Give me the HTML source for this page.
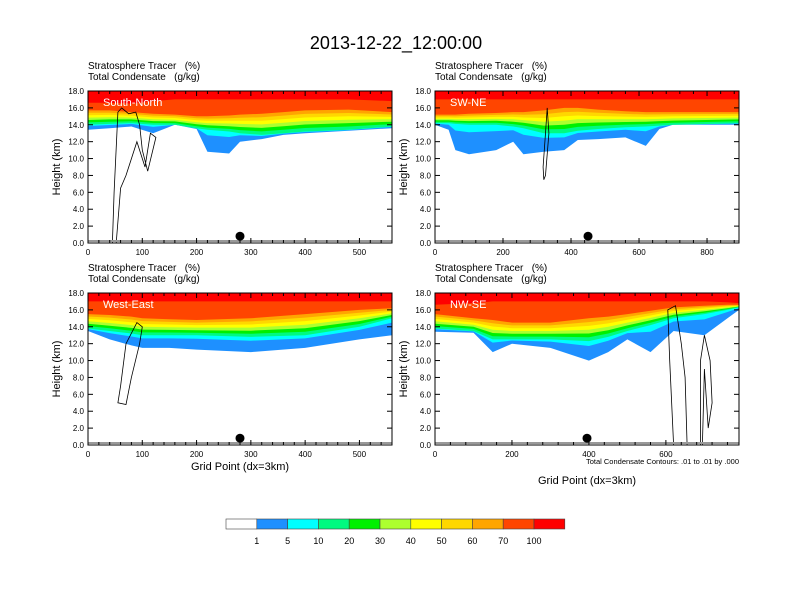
<!DOCTYPE html>
<html><head><meta charset="utf-8"><style>
body{margin:0;background:#fff}
svg{display:block;font-family:"Liberation Sans",sans-serif}
text{white-space:pre}
</style></head><body>
<svg id="s" width="792" height="612" viewBox="0 0 792 612">
<text x="396" y="49" font-size="18" text-anchor="middle">2013-12-22_12:00:00</text>
</svg>
<script>
const levels=[1,5,10,20,30,40,50,60,70,100];
const colors=['#ffffff','#1e90ff','#00ffff','#00fa80','#00f000','#adff2f','#ffff00','#ffd700','#ffa500','#ff4500','#ff0000'];
const tlX=[0,40,80,120,160,200,220,260,280,320,360,400,480,560];
const tlH100=[16.6,16.6,16.5,16.8,17,17,17,17,17,17,17,17,17,16.8];
const tlH70=[15.7,15.7,15.5,15.3,15.2,15.0,15.0,15.1,15.2,15.3,15.5,15.7,15.8,15.5];
const tlH10=[14.0,14.1,14.2,14.0,14.0,13.6,13.4,13.2,13.0,12.8,13.0,13.2,13.4,13.8];
const tlH1=[13.4,13.6,13.8,13.0,14.0,13.5,10.8,10.6,12.0,12.3,12.8,13.0,13.3,13.6];
const trX=[0,40,60,100,180,230,260,320,380,420,480,560,620,660,700,894];
const trH100=[17,17,17,17,17,17,17,17,17,17,17,17,17,17,17,17];
const trH70=[15.2,15.2,15.2,15.3,15.4,15.5,15.5,15.7,16,16,15.8,15.6,15.5,15.5,15.5,15.5];
const trH10=[14.2,14.2,14.1,14.0,14.0,13.8,13.6,13.0,13.0,13.3,13.5,13.7,13.8,13.9,14.0,14.2];
const trH1=[14.0,13.4,11.0,10.5,11.0,12.0,10.5,10.8,11.0,12.2,12.3,12.5,11.5,13.5,14.0,14.0];
const blX=[0,40,80,100,150,200,300,400,500,560];
const blH100=[17,17,17,17,17,17,17,17,17,17];
const blH70=[15.5,15.4,15.2,15.0,14.9,14.8,15.0,15.5,16.0,16.2];
const blH10=[13.8,13.5,13.2,13.0,13.0,13.0,12.8,13.0,14.0,15.0];
const blH1=[13.5,12.5,11.8,11.5,11.5,11.3,11.0,11.5,12.5,13.0];
const brX=[0,100,150,200,300,400,450,500,560,620,700,760,790];
const brH100=[16.6,16.8,17,17,17,17,17,17,17,17,17,16.9,16.8];
const brH70=[15.5,15.0,14.8,14.5,14.5,15.0,15.2,15.5,15.9,16.3,16.5,16.6,16.6];
const brH10=[13.8,13.5,12.5,12.5,12.5,12.3,12.8,13.5,14.2,15.0,15.5,16.0,16.3];
const brH1=[13.4,13.3,11.0,12.0,11.5,10.0,11.0,12.5,11.0,13.5,13.0,15.0,16.0];
const tlC=[[45,0],[48,6],[55,15.5],[62,16],[75,15.3],[88,15.5],[95,14],[100,11],[110,8.5],[125,12.5],[115,13],[105,9],[90,12],[70,8],[60,6.5],[52,0]];
const trC=[[330,16],[335,13],[325,8],[320,7.5],[318,9],[325,13],[330,16]];
const blC=[[60,7],[55,5],[70,4.8],[80,8],[95,12],[100,14],[90,14.5],[70,12],[60,7]];
const brC=[[620,0],[610,10],[605,16],[625,16.5],[640,12],[650,8],[655,0]];
const brC2=[[690,0],[690,10],[700,13],[715,10],[720,5],[710,2],[700,9],[695,0]];

const S=document.getElementById('s');const NS='http://www.w3.org/2000/svg';
function el(t,a,p){const e=document.createElementNS(NS,t);for(const k in a)e.setAttribute(k,a[k]);(p||S).appendChild(e);return e;}
function lerp(a,b,t){return a.map((v,i)=>v+(b[i]-v)*t);}

function panel(o){
  const g=el('g',{});
  
  
  const x0=o.px,y0=o.py,w=304,h=152;
  const sx=v=>x0+v/o.xmax*w, sy=v=>y0+h-v/18*h;
  const b={1:o.h1,5:lerp(o.h1,o.h10,0.75),10:o.h10};
  [20,30,40,50,60].forEach((L,i)=>b[L]=lerp(o.h10,o.h70,(i+1)/6));
  b[70]=o.h70;b[100]=o.h100;
  levels.forEach((L,i)=>{
    const hs=b[L];
    let d='M'+sx(o.xs[0])+','+sy(18);
    o.xs.forEach((xv,j)=>d+=' L'+sx(xv).toFixed(1)+','+sy(hs[j]).toFixed(1));
    d+=' L'+sx(o.xs[o.xs.length-1])+','+sy(18)+'Z';
    const p=el('path',{d:d,fill:colors[i+1]},g);
    
    
  });
  o.cont.forEach(c=>{
    const p=el('polyline',{points:c.map(q=>sx(q[0]).toFixed(1)+','+sy(q[1]).toFixed(1)).join(' '),fill:'none',stroke:'#000','stroke-width':0.8},g);
    
    
  });
  el('line',{x1:x0,y1:y0+h-2,x2:x0+w,y2:y0+h-2,stroke:'#999','stroke-width':2},g);
  const dot=el('circle',{cx:sx(o.dot),cy:sy(0.8),r:4.5,fill:'#000'},g);
  
  
  el('rect',{x:x0,y:y0,width:w,height:h,fill:'none',stroke:'#000','stroke-width':1},g);
  for(let v=0;v<=18;v+=2){
    const y=sy(v);
    el('line',{x1:x0,y1:y,x2:x0+5,y2:y,stroke:'#000'},g);
    el('line',{x1:x0+w,y1:y,x2:x0+w-5,y2:y,stroke:'#000'},g);
    const t=el('text',{x:x0-4,y:y+3,'font-size':8,'text-anchor':'end'},g);t.textContent=v.toFixed(1);
    
    
  }
  for(let v=0;v<=o.xmax;v+=o.step/5){
    const x=sx(v),maj=Math.round(v)%o.step===0;
    el('line',{x1:x,y1:y0+h,x2:x,y2:y0+h-(maj?5:3),stroke:'#000'},g);
    el('line',{x1:x,y1:y0,x2:x,y2:y0+(maj?5:3),stroke:'#000'},g);
    if(maj){const t=el('text',{x:x,y:y0+h+12,'font-size':8,'text-anchor':'middle'},g);t.textContent=Math.round(v);
      
      }
  }
  const lab=el('text',{x:x0+15,y:y0+15,'font-size':11,fill:'#fff'},g);lab.textContent=o.label;
  
  
  const s1=el('text',{x:x0,y:y0-22,'font-size':10},g);s1.textContent='Stratosphere Tracer   (%)';
  
  
  const s2=el('text',{x:x0,y:y0-11,'font-size':10},g);s2.textContent='Total Condensate   (g/kg)';
  
  
  const yt=el('text',{x:0,y:0,'font-size':11,'text-anchor':'middle',transform:`translate(${x0-28},${y0+h/2}) rotate(-90)`},g);yt.textContent='Height (km)';
  
  
}
panel({name:'panel-south-north',px:88,py:91,xmax:560,step:100,xs:tlX,h100:tlH100,h70:tlH70,h10:tlH10,h1:tlH1,cont:[tlC],dot:280,label:'South-North'});
panel({name:'panel-sw-ne',px:435,py:91,xmax:894,step:200,xs:trX,h100:trH100,h70:trH70,h10:trH10,h1:trH1,cont:[trC],dot:450,label:'SW-NE'});
panel({name:'panel-west-east',px:88,py:293,xmax:560,step:100,xs:blX,h100:blH100,h70:blH70,h10:blH10,h1:blH1,cont:[blC],dot:280,label:'West-East'});
panel({name:'panel-nw-se',px:435,py:293,xmax:790,step:200,xs:brX,h100:brH100,h70:brH70,h10:brH10,h1:brH1,cont:[brC,brC2],dot:395,label:'NW-SE'});

let t=el('text',{x:240,y:470,'font-size':11,'text-anchor':'middle'});t.textContent='Grid Point (dx=3km)';

t=el('text',{x:587,y:484,'font-size':11,'text-anchor':'middle'});t.textContent='Grid Point (dx=3km)';

t=el('text',{x:739,y:464,'font-size':7.5,'text-anchor':'end'});t.textContent='Total Condensate Contours: .01 to .01 by .000';

const cb=el('g',{});

const cw=30.8,cx0=226;
colors.forEach((c,i)=>{const r=el('rect',{x:cx0+i*cw,y:519,width:cw,height:10,fill:c,stroke:'#444','stroke-width':0.6},cb);
  });
levels.forEach((L,i)=>{const tt=el('text',{x:cx0+(i+1)*cw,y:544,'font-size':9,'text-anchor':'middle'},cb);tt.textContent=L;
  });
</script>
</body></html>
